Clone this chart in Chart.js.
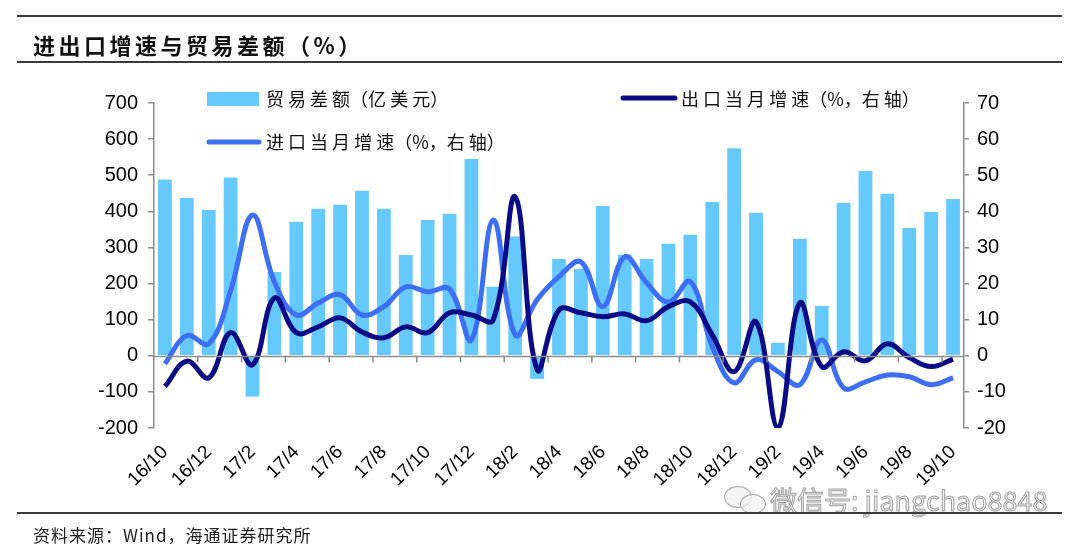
<!DOCTYPE html>
<html>
<head>
<meta charset="utf-8">
<script src="https://cdn.jsdelivr.net/npm/chart.js@4"></script>
<style>
  html, body { margin: 0; padding: 0; background: #fff; }
  #wrap { position: relative; width: 1080px; height: 552px; overflow: hidden; }
  #chart { position: absolute; left: 0; top: 0; }
  .rule { position: absolute; left: 17px; width: 1045px; height: 2px; background: #3a3a3a; }
  #title { position: absolute; left: 33px; top: 28px; font: bold 22px "Noto Sans CJK SC", sans-serif; color: #111; letter-spacing: 3.5px; }
  #source { position: absolute; left: 33px; top: 522px; font: 17px "Noto Sans CJK SC", sans-serif; color: #222; letter-spacing: 1px; }
  #mark { position: absolute; left: 770px; top: 480px; font: 27px "Noto Sans CJK SC", sans-serif; color: rgba(238,238,238,0.85);
          -webkit-text-stroke: 1px rgba(140,140,140,0.8); }
  .bolha { position: absolute; border: 1.5px solid rgba(150,150,150,0.8); background: rgba(240,240,240,0.7); border-radius: 50%; }
</style>
</head>
<body>
<div id="wrap">
  <canvas id="chart" width="1080" height="552"></canvas>
  <div class="rule" style="top:15px"></div>
  <div id="title">进出口增速与贸易差额（%）</div>
  <div class="rule" style="top:61px"></div>
  <div class="bolha" style="left:724px; top:486px; width:26px; height:20px;"></div>
  <div class="bolha" style="left:740px; top:494px; width:24px; height:18px;"></div>
  <div id="mark">微信号: jiangchao8848</div>
  <div class="rule" style="top:512px"></div>
  <div id="source">资料来源：Wind，海通证券研究所</div>
</div>
<script>
// 月份
const meses = ['16/10', '16/11', '16/12', '17/1', '17/2', '17/3', '17/4', '17/5', '17/6', '17/7', '17/8', '17/9',
    '17/10', '17/11', '17/12', '18/1', '18/2', '18/3', '18/4', '18/5', '18/6', '18/7', '18/8', '18/9',
    '18/10', '18/11', '18/12', '19/1', '19/2', '19/3', '19/4', '19/5', '19/6', '19/7', '19/8', '19/9', '19/10'];

// 贸易差额（亿美元）
const saldo = [488, 437, 404, 494, -113, 232, 371, 407, 418, 457, 407, 279,
    376, 393, 545, 191, 330, -64, 268, 241, 415, 280, 268, 310,
    335, 426, 575, 396, 36, 324, 138, 423, 512, 449, 354, 398, 434];

// 出口当月增速（%）
const exportacao = [-8.5, -1.5, -6.1, 6.4, -2.5, 16, 6.4, 8, 10.5, 6.6, 5, 8,
    6.4, 11.9, 11.3, 10, 44, -3.8, 12.7, 11.9, 10.8, 11.6, 9.7, 13.6,
    14.9, 5.8, -4.4, 9.4, -20, 14.6, -3, 1.1, -1.4, 3.3, -0.5, -3, -0.9];

// 进口当月增速（%）
const importacao = [-2.2, 5.6, 3.3, 18, 39, 20.5, 11.3, 14.6, 16.9, 11.3, 13.6, 19.1,
    17.7, 18.5, 4.4, 37.6, 5.8, 15.5, 21.9, 26, 13.6, 27.4, 20.2, 14.9,
    20.5, 2.5, -7.5, -1.1, -4.4, -8, 4.4, -8.9, -7.2, -5.3, -5.8, -8, -6.1];

const corBarra = '#66c9fb';
const corExport = '#0b0b85';
const corImport = '#3d6ff2';
const corEixo = '#8c8c8c';
const fonteEixo = { family: 'Liberation Sans, Arial, sans-serif', size: 20 };

// legenda desenhada dentro da área do gráfico
const legendaPlugin = {
    id: 'legendaCustom',
    afterDraw(chart) {
        const c = chart.ctx;
        c.save();
        c.font = '18px "Noto Sans CJK SC", sans-serif';
        c.textBaseline = 'middle';

        c.fillStyle = corBarra;
        c.fillRect(207, 92, 52, 14);
        c.fillStyle = '#111';
        c.fillText('贸 易 差 额（亿 美 元）', 266, 99);

        c.lineCap = 'round';
        c.lineWidth = 5;
        c.strokeStyle = corExport;
        c.beginPath(); c.moveTo(623, 98); c.lineTo(675, 98); c.stroke();
        c.fillText('出 口 当 月 增 速（%，右 轴）', 681, 99);

        c.strokeStyle = corImport;
        c.beginPath(); c.moveTo(209, 142); c.lineTo(259, 142); c.stroke();
        c.fillText('进 口 当 月 增 速（%，右 轴）', 266, 142);

        // linha do zero e marcas do eixo x
        const x = chart.scales.x, y = chart.scales.y;
        const y0 = Math.round(y.getPixelForValue(0)) + 0.5;
        c.lineCap = 'butt';
        c.lineWidth = 1.5;
        c.strokeStyle = corEixo;
        c.beginPath();
        c.moveTo(chart.chartArea.left, y0);
        c.lineTo(chart.chartArea.right, y0);
        for (let i = 2; i < meses.length; i += 2) {
            const xt = (x.getPixelForValue(i - 1) + x.getPixelForValue(i)) / 2;
            c.moveTo(xt, y0);
            c.lineTo(xt, y0 + 6);
        }
        c.stroke();
        c.restore();
    }
};

const ctx = document.getElementById('chart').getContext('2d');
const grafico = new Chart(ctx, {
    data: {
        labels: meses,
        datasets: [
            {
                type: 'line',
                label: '出口当月增速（%，右轴）',
                data: exportacao,
                yAxisID: 'y1',
                borderColor: corExport,
                borderWidth: 5,
                pointRadius: 0,
                tension: 0.4,
                order: 1
            },
            {
                type: 'line',
                label: '进口当月增速（%，右轴）',
                data: importacao,
                yAxisID: 'y1',
                borderColor: corImport,
                borderWidth: 5,
                pointRadius: 0,
                tension: 0.4,
                order: 2
            },
            {
                type: 'bar',
                label: '贸易差额（亿美元）',
                data: saldo,
                yAxisID: 'y',
                backgroundColor: corBarra,
                categoryPercentage: 1,
                barPercentage: 0.63,
                order: 3
            }
        ]
    },
    options: {
        responsive: false,
        animation: false,
        layout: { padding: { top: 103, left: 0, right: 0, bottom: 0 } },
        plugins: { legend: { display: false }, tooltip: { enabled: false } },
        scales: {
            x: {
                grid: { display: false },
                border: { display: false },
                ticks: {
                    autoSkip: false,
                    maxRotation: 45,
                    minRotation: 45,
                    color: '#000',
                    font: { family: 'Liberation Sans, Arial, sans-serif', size: 19 },
                    padding: 5,
                    callback: function(v, i) { return i % 2 === 0 ? meses[i] : ''; }
                },
                afterFit: function(s) { s.height = 124; }
            },
            y: {
                position: 'left',
                min: -200,
                max: 700,
                ticks: { stepSize: 100, color: '#000', font: fonteEixo, padding: 10 },
                grid: { drawOnChartArea: false, tickLength: 6, color: corEixo, lineWidth: 1.5 },
                border: { display: true, color: corEixo, width: 1.5 },
                afterFit: function(s) { s.width = 154; }
            },
            y1: {
                position: 'right',
                min: -20,
                max: 70,
                ticks: { stepSize: 10, color: '#000', font: fonteEixo, padding: 8 },
                grid: { drawOnChartArea: false, tickLength: 5, color: corEixo, lineWidth: 1.5 },
                border: { display: true, color: corEixo, width: 1.5 },
                afterFit: function(s) { s.width = 116; }
            }
        }
    },
    plugins: [legendaPlugin]
});
</script>
</body>
</html>
